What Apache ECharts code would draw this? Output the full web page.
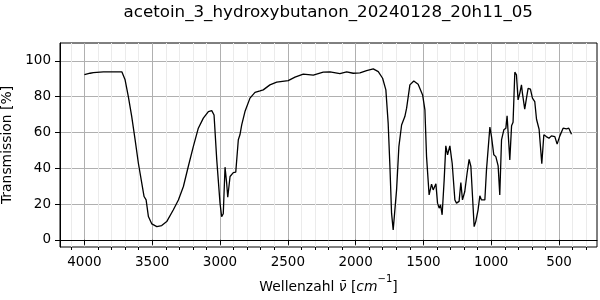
<!DOCTYPE html>
<html><head><meta charset="utf-8">
<script src="https://cdn.jsdelivr.net/npm/echarts@6/dist/echarts.min.js"></script>
<style>html,body{margin:0;padding:0;background:#fff}#c{width:600px;height:300px}</style>
</head><body><div id="c"></div>
<script>
const chartTitle = 'acetoin_3_hydroxybutanon_20240128_20h11_05';
const xTickLabels = [4000, 3500, 3000, 2500, 2000, 1500, 1000, 500];
const yTickLabels = [0, 20, 40, 60, 80, 100];
const wavenumber = [4000,3958,3934,3860,3724,3700,3676,3651,3626,3602,3577,3560,3545,3528,3503,3466,3430,3393,3344,3307,3270,3234,3197,3160,3123,3086,3061,3044,3024,3013,3000,2988,2976,2963,2951,2943,2934,2926,2902,2884,2865,2853,2840,2816,2779,2742,2705,2681,2632,2582,2497,2447,2386,2312,2239,2189,2116,2066,2018,1968,1919,1870,1833,1801,1777,1760,1747,1735,1723,1710,1698,1681,1661,1637,1624,1605,1600,1571,1539,1506,1489,1477,1458,1440,1428,1408,1396,1384,1374,1362,1347,1335,1322,1305,1288,1268,1256,1237,1224,1212,1195,1178,1163,1150,1138,1126,1114,1097,1084,1072,1060,1047,1035,1023,1010,998,981,966,949,937,924,907,892,883,876,863,850,839,826,814,802,789,777,770,753,740,728,711,696,679,666,654,647,637,627,612,594,574,556,531,514,494,470,445,428,408];
const transmission = [92.3,93.1,93.5,93.9,93.9,89.4,80,68.9,55.9,42.8,31.7,24.2,22.3,13,8.9,7.4,8,10.2,16.8,22.3,29.8,41,52.1,62.4,68,71.7,72.2,69.8,44.7,44,20.5,13,14.6,40.6,31.7,23.8,24.2,35.4,37.6,37.8,55.9,58.7,64.2,71.7,79.2,82.4,83.2,83.8,86.6,88.1,89,90.9,92.6,92,93.7,93.9,92.9,93.9,93.1,93.3,94.6,95.5,94,90.3,83.8,65.2,41,14.9,5.6,5.8,27.9,52.1,64.2,68.9,73.6,83.8,86.6,88.8,87,81,72.6,46.5,25.1,31.1,27.9,31.3,20.5,17.7,19.6,14,33.5,52.5,47.5,52.5,42.8,22.3,20.5,21.5,32,22.3,27,37.2,45,41,24.2,7.4,10.2,16.8,24.6,22.3,23,22.3,39.1,40,63,57.7,47.5,46.5,41.3,25.1,55.9,61.5,62.4,69.3,69,44.7,63.7,65.7,93.7,92.2,78.2,82,86.6,82,73,79.2,84.7,84.2,79.2,77.3,67.4,68,61.8,61.2,42.5,58.7,57.7,56.8,58.1,57.7,53.5,58.1,62.4,62,62.4,59];

const minorTicks = [];
for (let v = 300; v <= 4100; v += 100) if (v % 500 !== 0) minorTicks.push(v);
const seriesData = wavenumber.map((w, i) => [w, transmission[i]]);
const FONT = 'DejaVu Sans';
const chart = echarts.init(document.getElementById('c'), null, {renderer: 'canvas'});
chart.setOption({
  animation: false,
  backgroundColor: '#fff',
  graphic: [{type: 'text', left: 328.5 - 205, top: 4, style: {text: chartTitle, font: '16.7px "DejaVu Sans"', fill: '#000'}}],
  grid: {left: 60, right: 3, top: 43, bottom: 53, containLabel: false, outerBoundsMode: 'none',
    show: true, borderColor: '#000', borderWidth: 1, backgroundColor: 'transparent'},
  xAxis: [{
    type: 'value', inverse: true, min: 220, max: 4180, position: 'bottom',
    axisLine: {show: true, lineStyle: {color: '#000', width: 1}},
    axisTick: {show: true, length: 5, customValues: xTickLabels, lineStyle: {color: '#000'}},
    axisLabel: {show: true, customValues: xTickLabels, formatter: v => String(v), margin: 8, color: '#000', fontFamily: FONT, fontSize: 13.5},
    splitLine: {show: true, lineStyle: {color: '#b0b0b0', width: 1}},
    name: '{a|Wellenzahl }{i|ν̄}{a| [}{i|cm}{s|−1}{a|]}',
    nameLocation: 'middle', nameGap: 27,
    nameTextStyle: {rich: {
      a: {fontFamily: FONT, fontSize: 13.9, color: '#000', lineHeight: 20, verticalAlign: 'bottom'},
      i: {fontFamily: FONT, fontSize: 13.9, fontStyle: 'italic', color: '#000', lineHeight: 20, verticalAlign: 'bottom'},
      s: {fontFamily: FONT, fontSize: 10, color: '#000', lineHeight: 20, verticalAlign: 'top'}
    }}
  }, {
    type: 'value', inverse: true, min: 220, max: 4180, position: 'bottom',
    axisLine: {show: false},
    axisTick: {show: true, length: 3, customValues: minorTicks, lineStyle: {color: '#000'}},
    axisLabel: {show: false, customValues: minorTicks},
    splitLine: {show: true, lineStyle: {color: '#ebebeb', width: 1}}
  }],
  yAxis: {
    type: 'value', min: -4, max: 110,
    axisLine: {show: true, lineStyle: {color: '#000', width: 1}},
    axisTick: {show: true, length: 5, customValues: yTickLabels, lineStyle: {color: '#000'}},
    axisLabel: {show: true, customValues: yTickLabels, margin: 9, color: '#000', fontFamily: FONT, fontSize: 13.5},
    splitLine: {show: true, lineStyle: {color: '#b0b0b0', width: 1}},
    name: 'Transmission [%]', nameLocation: 'middle', nameRotate: 90, nameGap: 39,
    nameTextStyle: {fontFamily: FONT, fontSize: 13.9, color: '#000'}
  },
  series: [{
    type: 'line', xAxisIndex: 0, data: seriesData, symbol: 'none', smooth: false,
    lineStyle: {color: '#000', width: 1.3}, z: 5
  }]
});
</script></body></html>
